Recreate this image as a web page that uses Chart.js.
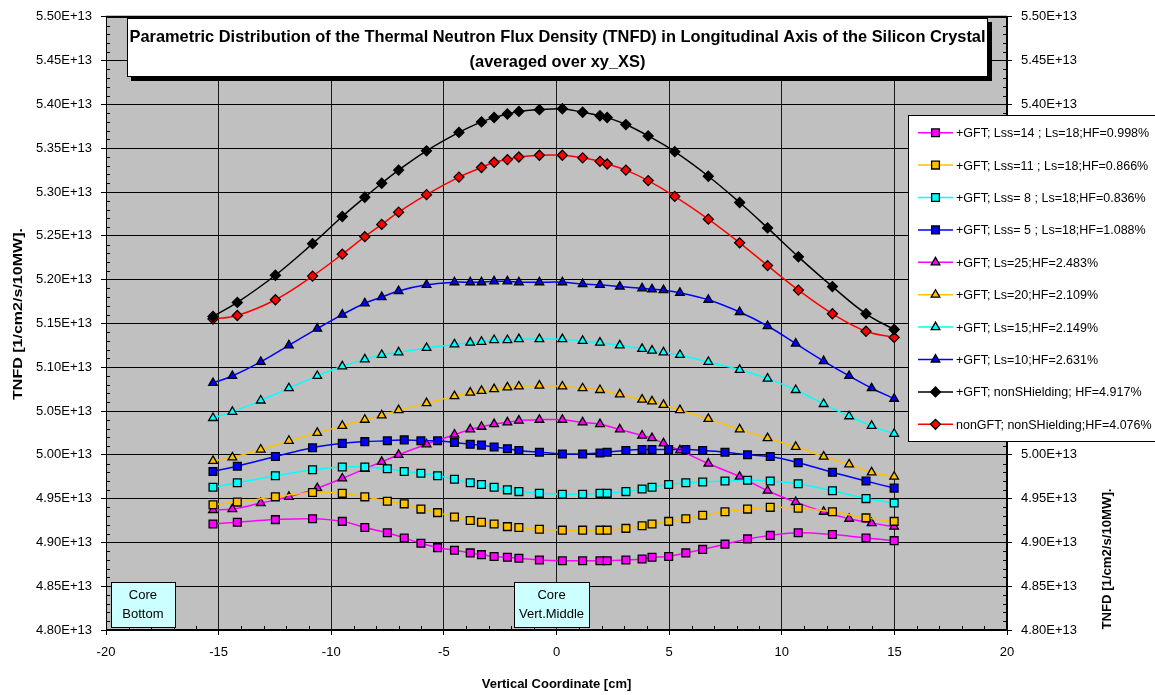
<!DOCTYPE html>
<html>
<head>
<meta charset="utf-8">
<script src="https://cdn.jsdelivr.net/npm/chart.js@4.4.1/dist/chart.umd.min.js"></script>
<style>
html,body{margin:0;padding:0;background:#fff;}
#wrap{width:1155px;height:695px;position:relative;}
</style>
</head>
<body>
<div id="wrap"><canvas id="c" width="1155" height="695"></canvas></div>
<script>
const FONT = "'Liberation Sans', Arial, Helvetica, sans-serif";

// Vertical coordinate [cm] of the computed points (three grids)
const xSquare = [-15.25,-14.17,-12.48,-10.83,-9.51,-8.51,-7.51,-6.76,-6.02,-5.28,-4.53,-3.83,-3.33,-2.77,-2.18,-1.67,-0.76,0.26,1.16,1.93,2.25,3.08,3.80,4.24,4.98,5.74,6.49,7.48,8.48,9.49,10.73,12.25,13.74,14.99];
const xTriangle = [-15.25,-14.39,-13.13,-11.88,-10.62,-9.51,-8.51,-7.76,-7.01,-5.77,-4.53,-3.83,-3.33,-2.77,-2.18,-1.67,-0.76,0.26,1.16,1.93,2.81,3.80,4.24,4.75,5.48,6.74,8.13,9.37,10.62,11.86,12.99,13.99,14.99];
const xDiamond = [-15.25,-14.17,-12.48,-10.83,-9.51,-8.51,-7.76,-7.01,-5.77,-4.33,-3.33,-2.77,-2.18,-1.67,-0.76,0.26,1.16,1.93,2.25,3.08,4.07,5.25,6.74,8.13,9.37,10.74,12.25,13.74,14.99];

// TNFD values in units of 1E+13 1/cm2/s/10MW
const fluxLss14 = [4.921,4.923,4.926,4.927,4.924,4.917,4.911,4.905,4.899,4.894,4.891,4.888,4.886,4.884,4.883,4.882,4.880,4.879,4.879,4.879,4.879,4.880,4.881,4.883,4.884,4.888,4.892,4.898,4.904,4.908,4.911,4.909,4.905,4.902];
const fluxLss11 = [4.943,4.946,4.952,4.957,4.956,4.952,4.947,4.944,4.938,4.934,4.929,4.925,4.923,4.921,4.918,4.917,4.915,4.914,4.914,4.914,4.914,4.916,4.919,4.921,4.924,4.927,4.931,4.935,4.938,4.940,4.939,4.935,4.928,4.924];
const fluxLss8 = [4.963,4.968,4.976,4.983,4.986,4.986,4.984,4.981,4.979,4.976,4.972,4.968,4.966,4.963,4.960,4.958,4.956,4.955,4.955,4.956,4.956,4.958,4.961,4.963,4.966,4.968,4.969,4.970,4.971,4.970,4.967,4.959,4.950,4.945];
const fluxLss5 = [4.981,4.987,4.998,5.008,5.013,5.015,5.016,5.017,5.016,5.016,5.014,5.012,5.011,5.009,5.007,5.005,5.003,5.001,5.001,5.002,5.003,5.005,5.006,5.006,5.006,5.006,5.005,5.003,5.000,4.998,4.991,4.980,4.970,4.962];
const fluxLs25 = [4.937,4.938,4.945,4.952,4.962,4.973,4.984,4.992,5.000,5.012,5.023,5.029,5.032,5.035,5.037,5.039,5.040,5.040,5.037,5.035,5.029,5.022,5.019,5.013,5.005,4.990,4.975,4.959,4.946,4.935,4.927,4.922,4.918];
const fluxLs20 = [4.993,4.997,5.006,5.016,5.025,5.033,5.040,5.045,5.051,5.059,5.067,5.071,5.073,5.075,5.077,5.078,5.079,5.078,5.076,5.074,5.069,5.063,5.061,5.057,5.051,5.041,5.029,5.019,5.009,4.998,4.989,4.980,4.975];
const fluxLs15 = [5.042,5.049,5.062,5.076,5.090,5.101,5.109,5.114,5.117,5.122,5.126,5.128,5.129,5.131,5.131,5.132,5.132,5.132,5.130,5.128,5.125,5.121,5.119,5.117,5.114,5.106,5.097,5.087,5.074,5.058,5.044,5.033,5.024];
const fluxLs10 = [5.082,5.090,5.106,5.125,5.144,5.160,5.173,5.180,5.187,5.194,5.197,5.197,5.197,5.198,5.198,5.197,5.197,5.197,5.195,5.194,5.192,5.190,5.189,5.188,5.185,5.177,5.163,5.147,5.127,5.107,5.090,5.076,5.064];
const fluxGftNonShield = [5.158,5.174,5.205,5.241,5.272,5.294,5.310,5.325,5.347,5.368,5.380,5.385,5.389,5.392,5.394,5.395,5.391,5.387,5.385,5.377,5.364,5.346,5.318,5.288,5.259,5.226,5.192,5.161,5.143];
const fluxNonGftNonShield = [5.155,5.159,5.177,5.204,5.229,5.249,5.263,5.277,5.297,5.317,5.328,5.334,5.337,5.340,5.342,5.342,5.339,5.335,5.332,5.325,5.313,5.295,5.269,5.242,5.216,5.188,5.161,5.141,5.134];

const seriesLabels = [
  "+GFT; Lss=14 ; Ls=18;HF=0.998%",
  "+GFT; Lss=11 ; Ls=18;HF=0.866%",
  "+GFT; Lss= 8 ; Ls=18;HF=0.836%",
  "+GFT; Lss= 5 ; Ls=18;HF=1.088%",
  "+GFT; Ls=25;HF=2.483%",
  "+GFT; Ls=20;HF=2.109%",
  "+GFT; Ls=15;HF=2.149%",
  "+GFT; Ls=10;HF=2.631%",
  "+GFT; nonSHielding; HF=4.917%",
  "nonGFT; nonSHielding;HF=4.076%"
];
const titleLines = ["Parametric Distribution of the Thermal Neutron Flux Density (TNFD) in Longitudinal Axis of the Silicon Crystal", "(averaged over xy_XS)"];
const xAxisTitle = "Vertical Coordinate [cm]";
const yAxisTitle = "TNFD [1/cm2/s/10MW].";
const noteBoxes = [{x:-18.36, w:64, lines:["Core","Bottom"]},{x:-0.22, w:75, lines:["Core","Vert.Middle"]}];

const MAGENTA='#ff00ff', GOLD='#ffc000', CYAN='#00ffff', BLUE='#0000ff', BLACK='#000000', RED='#ff0000';

function pts(xs, ys){ return xs.map((x,i)=>({x:x, y:ys[i]})); }
function ds(label, xs, ys, color, style, fill, radius){
  return {label:label, data:pts(xs,ys), borderColor:color, backgroundColor:fill, borderWidth:1.5,
    pointStyle:style, pointRadius:radius, pointHoverRadius:radius, pointBackgroundColor:fill,
    pointBorderColor:'#000', pointBorderWidth:1.3, tension:0.4, fill:false};
}
const datasets = [
  ds(seriesLabels[0], xSquare, fluxLss14, MAGENTA, 'rect', MAGENTA, 5.5),
  ds(seriesLabels[1], xSquare, fluxLss11, GOLD, 'rect', GOLD, 5.5),
  ds(seriesLabels[2], xSquare, fluxLss8, CYAN, 'rect', CYAN, 5.5),
  ds(seriesLabels[3], xSquare, fluxLss5, BLUE, 'rect', BLUE, 5.5),
  ds(seriesLabels[4], xTriangle, fluxLs25, MAGENTA, 'triangle', MAGENTA, 5),
  ds(seriesLabels[5], xTriangle, fluxLs20, GOLD, 'triangle', GOLD, 5),
  ds(seriesLabels[6], xTriangle, fluxLs15, CYAN, 'triangle', CYAN, 5),
  ds(seriesLabels[7], xTriangle, fluxLs10, BLUE, 'triangle', BLUE, 5),
  ds(seriesLabels[8], xDiamond, fluxGftNonShield, BLACK, 'rectRot', BLACK, 5),
  ds(seriesLabels[9], xDiamond, fluxNonGftNonShield, RED, 'rectRot', RED, 5)
];

function stretchedText(ctx, text, cx, cy, targetLen){
  const w = ctx.measureText(text).width;
  ctx.save(); ctx.translate(cx, cy); ctx.rotate(-Math.PI/2); ctx.scale(targetLen/w, 1);
  ctx.fillText(text, 0, 0); ctx.restore();
}

const decor = {
  id:'decor',
  beforeDraw(chart){
    const {ctx, chartArea:a} = chart;
    ctx.save();
    ctx.fillStyle='#c0c0c0';
    ctx.fillRect(a.left, a.top, a.right-a.left, a.bottom-a.top);
    ctx.restore();
  },
  afterDraw(chart){
    const {ctx, chartArea:a} = chart;
    const xs = chart.scales.x, ys = chart.scales.y;
    ctx.save();
    // plot border
    ctx.strokeStyle='#000'; ctx.lineWidth=1;
    ctx.strokeRect(a.left+0.5, a.top+0.5, a.right-a.left-1, a.bottom-a.top-1);
    ctx.lineWidth=2;
    ctx.beginPath(); ctx.moveTo(a.left, a.top); ctx.lineTo(a.right, a.top); ctx.stroke();
    // minor ticks
    ctx.lineWidth=1; ctx.strokeStyle='#000';
    ctx.beginPath();
    for(let i=1;i<70;i++){
      if(i%5===0) continue;
      const y = Math.round(ys.getPixelForValue(4.8+i*0.01))+0.5;
      ctx.moveTo(a.left, y); ctx.lineTo(a.left+4, y);
      ctx.moveTo(a.right-4, y); ctx.lineTo(a.right, y);
    }
    for(let i=-19;i<20;i++){
      if(i%5===0) continue;
      const x = Math.round(xs.getPixelForValue(i))+0.5;
      ctx.moveTo(x, a.bottom); ctx.lineTo(x, a.bottom-4);
    }
    ctx.stroke();

    // note boxes
    ctx.font = '13px '+FONT; ctx.textAlign='center'; ctx.textBaseline='middle';
    noteBoxes.forEach(nb=>{
      const lines = nb.lines;
      const bw = nb.w;
      const cx = xs.getPixelForValue(nb.x);
      const bx = Math.round(cx - bw/2)+0.5, by = a.bottom-47.5, bh=45;
      ctx.fillStyle='#ccffff'; ctx.fillRect(bx,by,bw,bh);
      ctx.strokeStyle='#000'; ctx.lineWidth=1; ctx.strokeRect(bx,by,bw,bh);
      ctx.fillStyle='#000';
      ctx.fillText(lines[0], cx, by+13);
      ctx.fillText(lines[1], cx, by+32);
    });

    // title box
    const tx=127, ty=18, tw=861, th=59;
    ctx.fillStyle='#000'; ctx.fillRect(tx+4, ty+4, tw, th);
    ctx.fillStyle='#fff'; ctx.fillRect(tx, ty, tw, th);
    ctx.strokeStyle='#000'; ctx.lineWidth=1; ctx.strokeRect(tx+0.5, ty+0.5, tw-1, th-1);
    ctx.fillStyle='#000'; ctx.font='bold 16.4px '+FONT; ctx.textAlign='center'; ctx.textBaseline='middle';
    ctx.fillText(titleLines[0], tx+tw/2, 37);
    ctx.fillText(titleLines[1], tx+tw/2, 62);

    // axis titles
    ctx.font='bold 13px '+FONT;
    ctx.fillText(xAxisTitle, (a.left+a.right)/2, 684);
    stretchedText(ctx, yAxisTitle, 18, 314, 172);
    stretchedText(ctx, yAxisTitle, 1107, 559, 141);

    // legend
    const lx=908, ly=115, lw=260, lh=326;
    ctx.fillStyle='#fff'; ctx.fillRect(lx, ly, lw, lh);
    ctx.strokeStyle='#000'; ctx.lineWidth=1; ctx.strokeRect(lx+0.5, ly+0.5, lw, lh);
    ctx.font='12.5px '+FONT; ctx.textAlign='left'; ctx.textBaseline='middle';
    chart.data.datasets.forEach((d,i)=>{
      const y = 132.7 + i*32.4;
      ctx.strokeStyle=d.borderColor; ctx.lineWidth=1.5;
      ctx.beginPath(); ctx.moveTo(918, y); ctx.lineTo(953, y); ctx.stroke();
      ctx.fillStyle=d.pointBackgroundColor; ctx.strokeStyle='#000'; ctx.lineWidth=1.3;
      Chart.helpers.drawPoint(ctx, {pointStyle:d.pointStyle, radius:d.pointRadius, rotation:0, borderWidth:1.3}, 935.5, y);
      ctx.fillStyle='#000';
      ctx.fillText(d.label, 956, y+1);
    });
    ctx.restore();
  }
};

const tickFont = {family:FONT, size:13};
new Chart(document.getElementById('c'), {
  type:'line',
  data:{datasets:datasets},
  options:{
    responsive:false, animation:false, devicePixelRatio:1,
    layout:{padding:{top:16,left:0,right:0,bottom:0}},
    plugins:{legend:{display:false}, title:{display:false}, tooltip:{enabled:false}},
    events:[],
    scales:{
      x:{type:'linear', min:-20, max:20, position:'bottom',
        ticks:{stepSize:5, color:'#000', font:tickFont, padding:10, maxRotation:0, autoSkip:false},
        grid:{color:'#1a1a1a', lineWidth:1, tickLength:5, tickColor:'#000'},
        border:{color:'#000'},
        afterFit:s=>{s.height=65;}},
      y:{type:'linear', min:4.8, max:5.5, position:'left',
        ticks:{stepSize:0.05, color:'#000', font:tickFont, padding:9, autoSkip:false, callback:v=>v.toFixed(2)+'E+13'},
        grid:{color:'#000', lineWidth:1, tickLength:5, tickColor:'#000'},
        border:{color:'#000'},
        afterFit:s=>{s.width=106;}},
      y2:{type:'linear', min:4.8, max:5.5, position:'right',
        ticks:{stepSize:0.05, color:'#000', font:tickFont, padding:9, autoSkip:false, callback:v=>v.toFixed(2)+'E+13'},
        grid:{drawOnChartArea:false, tickLength:5, tickColor:'#000'},
        border:{color:'#000'},
        afterFit:s=>{s.width=148;}}
    }
  },
  plugins:[decor]
});
</script>
</body>
</html>
